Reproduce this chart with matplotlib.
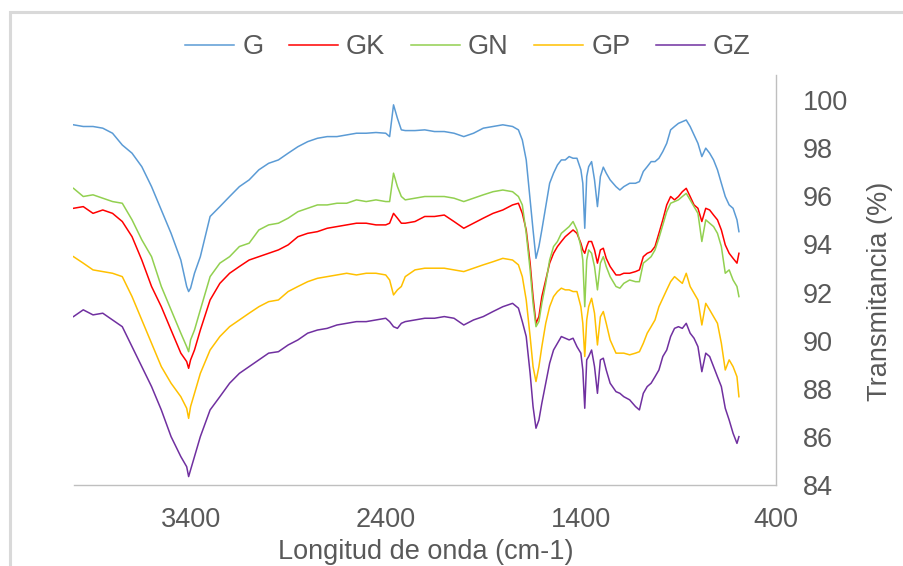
import matplotlib
matplotlib.use("Agg")
import matplotlib.pyplot as plt
from matplotlib.patches import Rectangle

plt.rcParams['font.family'] = ['Liberation Sans', 'DejaVu Sans']

# Wavenumber grid (cm-1), shared by all spectra
wavenumber = [
    4000, 3950, 3900, 3850, 3800, 3750, 3700, 3650, 3600, 3550,
    3500, 3450, 3420, 3410, 3400, 3380, 3350, 3300, 3250, 3200,
    3150, 3100, 3050, 3000, 2950, 2900, 2850, 2800, 2750, 2700,
    2650, 2600, 2550, 2500, 2450, 2400, 2380, 2360, 2340, 2320,
    2300, 2250, 2200,
    2150, 2100, 2050, 2000, 1950, 1900, 1850, 1800, 1750, 1720,
    1700, 1680, 1660, 1645, 1630, 1615, 1600, 1580, 1560, 1540,
    1520, 1500, 1480, 1460, 1440, 1420, 1400, 1390, 1380, 1370,
    1360, 1345, 1330, 1315, 1300, 1285, 1270, 1250, 1220, 1200,
    1180, 1150, 1120, 1100, 1080, 1060, 1040, 1020, 1000, 980,
    960, 940, 920, 900, 880, 860, 840, 820, 800, 780,
    760, 740, 720, 700, 680, 660, 640, 620, 600, 590,
]

# Transmittance (%) of each sample
G = [
    98.97, 98.90, 98.90, 98.83, 98.62, 98.13, 97.79, 97.23, 96.40, 95.43,
    94.46, 93.35, 92.25, 92.04, 92.18, 92.80, 93.49, 95.16, 95.57, 95.99,
    96.40, 96.68, 97.10, 97.37, 97.51, 97.79, 98.06, 98.27, 98.41, 98.48,
    98.48, 98.55, 98.62, 98.62, 98.65, 98.62, 98.48, 99.80, 99.24, 98.76,
    98.73, 98.73, 98.76,
    98.69, 98.69, 98.62, 98.48, 98.62, 98.83, 98.90, 98.97, 98.90, 98.76,
    98.34, 97.51, 95.85, 94.60, 93.42, 93.91, 94.60, 95.57, 96.54, 96.96,
    97.30, 97.51, 97.51, 97.65, 97.58, 97.58, 97.10, 96.54, 94.67, 96.82,
    97.23, 97.44, 96.68, 95.57, 96.82, 97.21, 96.96, 96.68, 96.40, 96.26,
    96.40, 96.54, 96.54, 96.61, 97.03, 97.23, 97.44, 97.44, 97.58, 97.86,
    98.20, 98.76, 98.90, 99.03, 99.10, 99.17, 98.90, 98.55, 98.20, 97.65,
    98.00, 97.79, 97.51, 97.10, 96.54, 95.99, 95.64, 95.50, 95.02, 94.53,
]

GK = [
    95.50, 95.57, 95.29, 95.43, 95.29, 94.95, 94.32, 93.35, 92.25, 91.41,
    90.44, 89.48, 89.13, 88.85, 89.20, 89.61, 90.44, 91.69, 92.38, 92.80,
    93.08, 93.35, 93.49, 93.63, 93.77, 93.98, 94.32, 94.46, 94.53, 94.67,
    94.74, 94.81, 94.88, 94.88, 94.81, 94.81, 94.88, 95.29, 95.09, 94.88,
    94.88, 94.95, 95.16,
    95.16, 95.22, 94.95, 94.67, 94.88, 95.09, 95.29, 95.43, 95.64, 95.71,
    95.29, 94.60, 93.22, 91.83, 90.72, 91.00, 91.83, 92.52, 93.22, 93.63,
    93.91, 94.12, 94.32, 94.46, 94.60, 94.46, 94.05, 93.77, 93.63, 93.91,
    94.12, 94.12, 93.77, 93.22, 93.77, 93.84, 93.42, 93.08, 92.73, 92.73,
    92.80, 92.80, 92.87, 92.94, 93.49, 93.63, 93.70, 93.91, 94.46, 95.02,
    95.64, 95.99, 95.85, 95.99, 96.19, 96.33, 95.99, 95.64, 95.50, 94.95,
    95.50, 95.43, 95.22, 95.02, 94.60, 93.98, 93.63, 93.42, 93.22, 93.63,
]

GN = [
    96.33, 95.99, 96.06, 95.92, 95.78, 95.71, 95.02, 94.19, 93.49, 92.25,
    91.28, 90.31, 89.75, 89.54, 90.03, 90.44, 91.28, 92.66, 93.22, 93.49,
    93.91, 94.05, 94.60, 94.81, 94.88, 95.09, 95.36, 95.50, 95.64, 95.64,
    95.71, 95.71, 95.85, 95.78, 95.85, 95.78, 95.78, 96.96, 96.40, 95.99,
    95.85, 95.92, 95.99,
    95.99, 95.99, 95.92, 95.78, 95.92, 96.06, 96.19, 96.26, 96.19, 95.99,
    95.64, 94.46, 92.94, 91.55, 90.58, 90.79, 91.55, 92.38, 93.35, 93.91,
    94.12, 94.46, 94.60, 94.74, 94.95, 94.60, 93.91, 93.35, 91.41, 93.35,
    93.77, 93.63, 93.08, 92.11, 93.22, 93.49, 93.08, 92.66, 92.25, 92.18,
    92.38, 92.52, 92.45, 92.45, 93.22, 93.35, 93.49, 93.77, 94.26, 94.81,
    95.36, 95.71, 95.78, 95.85, 95.99, 96.12, 95.85, 95.57, 95.29, 94.12,
    95.02, 94.88, 94.74, 94.46, 93.91, 92.80, 92.94, 92.52, 92.25, 91.83,
]

GP = [
    93.49, 93.22, 92.94, 92.87, 92.80, 92.66, 91.83, 90.86, 89.89, 88.92,
    88.23, 87.67, 87.19, 86.77, 87.26, 87.81, 88.64, 89.61, 90.17, 90.58,
    90.86, 91.14, 91.41, 91.62, 91.69, 92.04, 92.25, 92.45, 92.59, 92.66,
    92.73, 92.80, 92.73, 92.80, 92.80, 92.73, 92.52, 91.90, 92.11, 92.25,
    92.66, 92.94, 93.01,
    93.01, 93.01, 92.94, 92.87, 93.01, 93.15, 93.28, 93.42, 93.35, 93.15,
    92.66, 91.69, 90.17, 88.92, 88.30, 88.92, 89.75, 90.72, 91.41, 91.83,
    92.04, 92.18, 92.11, 92.11, 92.04, 92.04, 91.41, 90.72, 89.34, 90.86,
    91.41, 91.76, 91.14, 89.82, 90.99, 91.21, 90.72, 90.03, 89.48, 89.48,
    89.48, 89.41, 89.48, 89.54, 89.89, 90.31, 90.58, 90.86, 91.41, 91.76,
    92.11, 92.45, 92.66, 92.52, 92.38, 92.80, 92.25, 91.97, 91.69, 90.65,
    91.55, 91.28, 91.00, 90.72, 89.89, 88.78, 89.20, 88.92, 88.50, 87.67,
]

GZ = [
    91.00, 91.28, 91.07, 91.14, 90.86, 90.58, 89.75, 88.92, 88.09, 87.12,
    86.01, 85.18, 84.76, 84.35, 84.63, 85.18, 86.01, 87.12, 87.67, 88.23,
    88.64, 88.92, 89.20, 89.48, 89.54, 89.82, 90.03, 90.31, 90.44, 90.51,
    90.65, 90.72, 90.79, 90.79, 90.86, 90.93, 90.79, 90.58, 90.51, 90.72,
    90.79, 90.86, 90.93,
    90.93, 91.00, 90.93, 90.65, 90.86, 91.00, 91.21, 91.41, 91.55, 91.35,
    90.79, 90.17, 88.64, 87.26, 86.36, 86.70, 87.40, 88.23, 89.06, 89.61,
    89.89, 90.17, 90.10, 90.03, 90.10, 89.75, 89.48, 88.78, 87.19, 89.20,
    89.34, 89.61, 88.92, 87.81, 89.20, 89.27, 88.78, 88.23, 87.88, 87.81,
    87.67, 87.54, 87.26, 87.12, 87.81, 88.09, 88.23, 88.50, 88.78, 89.34,
    89.61, 90.17, 90.51, 90.58, 90.51, 90.72, 90.31, 90.10, 89.75, 88.71,
    89.48, 89.34, 88.92, 88.50, 88.09, 87.19, 86.70, 86.15, 85.73, 86.01,
]

series_names = ["G", "GK", "GN", "GP", "GZ"]
series_values = [G, GK, GN, GP, GZ]
series_colors = ["#5B9BD5", "#FF0000", "#92D050", "#FFC000", "#7030A0"]

x_ticks = [3400, 2400, 1400, 400]
y_ticks = [84, 86, 88, 90, 92, 94, 96, 98, 100]

TEXT = "#595959"
AXIS = "#BFBFBF"
FS = 19.5

fig = plt.figure(figsize=(9.04, 5.66), dpi=100)
W, H = 904, 566
ax = fig.add_axes([73.5 / W, 1 - 485 / H, (776 - 73.5) / W, (485 - 75) / H])

for name, vals, col in zip(series_names, series_values, series_colors):
    ax.plot(wavenumber, vals, color=col, lw=1.1, label=name)

ax.set_xlim(4000, 400)
ax.set_ylim(84, 101.04)
ax.set_xticks(x_ticks)
ax.set_xticklabels([str(t) for t in x_ticks])
ax.set_yticks(y_ticks)
ax.set_yticklabels([str(t) for t in y_ticks])
ax.yaxis.tick_right()
ax.tick_params(axis="both", length=0, labelsize=FS, labelcolor=TEXT)
ax.tick_params(axis="x", pad=16)
ax.tick_params(axis="y", pad=19)
for s in ("top", "left"):
    ax.spines[s].set_visible(False)
for s in ("bottom", "right"):
    ax.spines[s].set_color(AXIS)
    ax.spines[s].set_linewidth(1.0)

fig.text(426 / W, 1 - 552 / H, "Longitud de onda (cm-1)", ha="center",
         va="center", fontsize=FS, color=TEXT)
fig.text(880 / W, 1 - 291 / H, "Transmitancia (%)", rotation=90, ha="center",
         va="center", fontsize=FS, color=TEXT)

fig.legend(loc="center", bbox_to_anchor=(468 / W, 1 - 47 / H), ncol=5,
           frameon=False, fontsize=FS, handlelength=1.8, handletextpad=0.3,
           columnspacing=0.95, labelcolor=TEXT)

# chart-area outline
fig.add_artist(Rectangle((9.5 / W, -0.5), 2.0, 0.5 + (1 - 11.5 / H),
                         transform=fig.transFigure, fill=False,
                         edgecolor="#D9D9D9", linewidth=2.2))

fig.savefig("out.png", dpi=100)
